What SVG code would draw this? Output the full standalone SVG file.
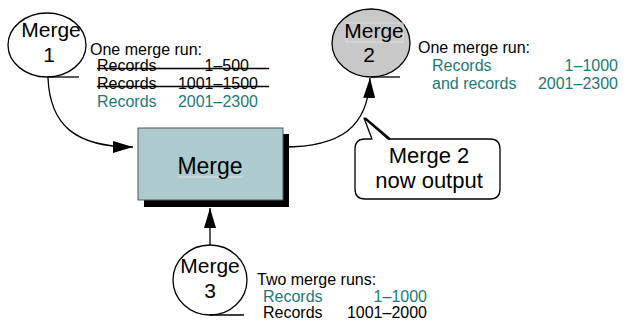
<svg xmlns="http://www.w3.org/2000/svg" width="631" height="325" viewBox="0 0 631 325">
<defs>
<marker id="ah" markerUnits="userSpaceOnUse" viewBox="0 0 20 12" refX="20" refY="6" markerWidth="20" markerHeight="12" orient="auto">
<path d="M0,0 L20,6 L0,12 Z" fill="#000"/>
</marker>
</defs>
<style>
text{font-family:"Liberation Sans",Arial,sans-serif;fill:#000}
.c{font-size:21px;text-anchor:middle}
.s{font-size:16px}
.t{fill:#1b7a76}
.e{text-anchor:end}
.ln{fill:none;stroke:#000;stroke-width:1.3}
.circ{stroke:#000;stroke-width:1.3}
</style>
<rect width="631" height="325" fill="#fff"/>
<g id="connectors">
<path class="ln" d="M48,78 C50,125 75,147 133,147" marker-end="url(#ah)"/>
<path class="ln" d="M283,147 C340,147 368,128 370,78" marker-end="url(#ah)"/>
<path class="ln" d="M210,245 L210,208" marker-end="url(#ah)"/>
</g>
<g id="merge1">
<ellipse class="circ" cx="47" cy="45" rx="39" ry="32" fill="#fff"/>
<line class="ln" x1="47" y1="77" x2="79" y2="77"/>
<text class="c" x="51" y="37">Merge</text>
<text class="c" x="49" y="62">1</text>
<text class="s" x="90" y="55">One merge run:</text>
<text class="s" x="97" y="71">Records</text>
<text class="s e" x="249" y="71">1–500</text>
<line class="ln" x1="97" y1="68.5" x2="269" y2="68.5"/>
<text class="s" x="97" y="89">Records</text>
<text class="s e" x="258" y="89">1001–1500</text>
<line class="ln" x1="97" y1="86.5" x2="269" y2="86.5"/>
<text class="s t" x="97" y="107">Records</text>
<text class="s t e" x="258" y="107">2001–2300</text>
</g>
<g id="merge2">
<ellipse class="circ" cx="371" cy="43" rx="39" ry="34" fill="#c8c8c8"/>
<rect x="346" y="23" width="57" height="19" fill="none" stroke="#dcdcdc" stroke-width="1"/>
<line class="ln" x1="371" y1="77" x2="400" y2="77"/>
<text class="c" x="374" y="38">Merge</text>
<text class="c" x="369" y="62">2</text>
<text class="s" x="418" y="53">One merge run:</text>
<text class="s t" x="432" y="71">Records</text>
<text class="s t e" x="618" y="71">1–1000</text>
<text class="s t" x="432" y="89">and records</text>
<text class="s t e" x="618" y="89">2001–2300</text>
</g>
<g id="merge">
<rect x="144" y="134" width="145" height="73" fill="#000"/>
<rect x="138" y="128" width="145" height="72" fill="#adcbcf" stroke="#555" stroke-width="1"/>
<line x1="178" y1="177" x2="243" y2="177" stroke="#d6e4e6" stroke-width="1"/>
<text x="210" y="174" font-size="23" text-anchor="middle">Merge</text>
</g>
<g id="merge3">
<ellipse class="circ" cx="210" cy="280" rx="37" ry="35" fill="#fff"/>
<line class="ln" x1="210" y1="315" x2="244" y2="315"/>
<text class="c" x="210" y="273">Merge</text>
<text class="c" x="210" y="298">3</text>
<text class="s" x="257" y="285">Two merge runs:</text>
<text class="s t" x="263" y="302">Records</text>
<text class="s t e" x="427" y="302">1–1000</text>
<text class="s" x="263" y="318">Records</text>
<text class="s e" x="427" y="318">1001–2000</text>
</g>
<g id="callout">
<path d="M365,139 L372,139 L364,118 L388,139 L490,139 Q500,139 500,149 L500,189 Q500,199 490,199 L365,199 Q355,199 355,189 L355,149 Q355,139 365,139 Z" fill="#fff" stroke="#000" stroke-width="1.3" stroke-linejoin="round"/>
<line x1="365" y1="118" x2="390" y2="139" stroke="#000" stroke-width="2"/>
<text x="429" y="163" font-size="22" text-anchor="middle">Merge 2</text>
<text x="429" y="188" font-size="22" text-anchor="middle">now output</text>
</g>
</svg>
